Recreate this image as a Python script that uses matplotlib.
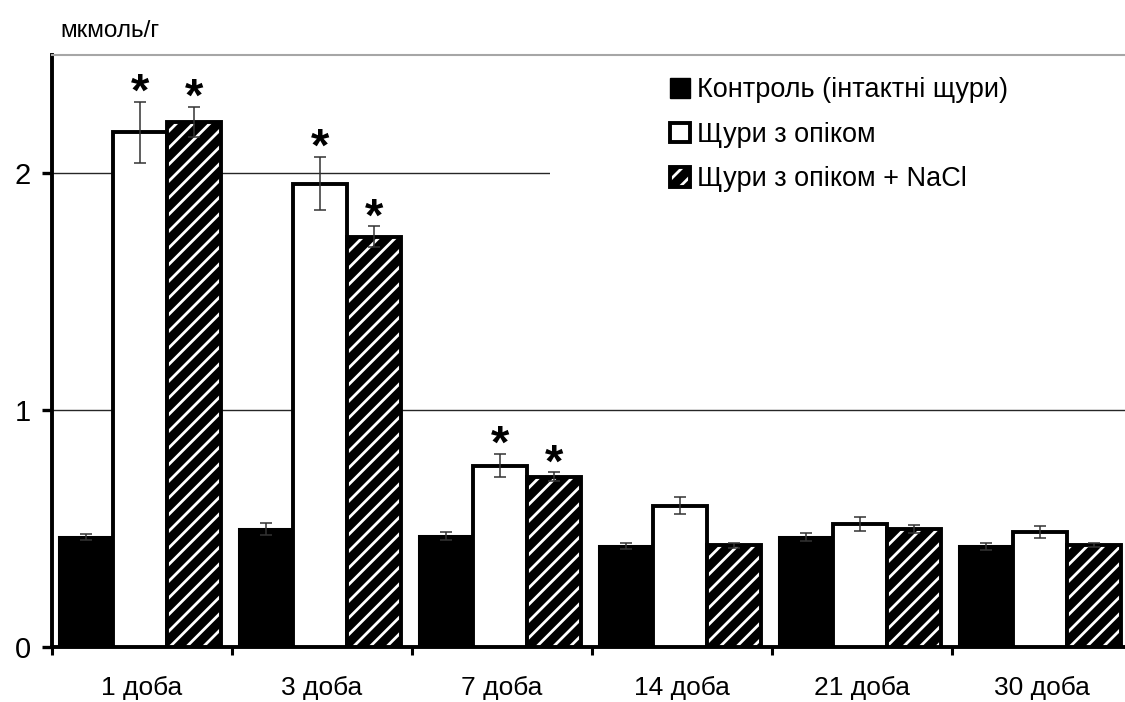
import numpy as np
import matplotlib
matplotlib.use('Agg')
import matplotlib.pyplot as plt
from matplotlib.patches import Patch, Rectangle

days = ['1 доба', '3 доба', '7 доба', '14 доба', '21 доба', '30 доба']
series_names = ['Контроль (інтактні щури)', 'Щури з опіком', 'Щури з опіком + NaCl']

control = [0.463, 0.497, 0.467, 0.427, 0.464, 0.425]
control_err = [0.013, 0.025, 0.017, 0.013, 0.018, 0.014]
burn = [2.173, 1.957, 0.766, 0.597, 0.518, 0.486]
burn_err = [0.13, 0.113, 0.05, 0.035, 0.03, 0.025]
burn_nacl = [2.218, 1.733, 0.720, 0.430, 0.500, 0.432]
burn_nacl_err = [0.064, 0.043, 0.018, 0.01, 0.017, 0.008]
# significance vs control
burn_sig = [True, True, True, False, False, False]
burn_nacl_sig = [True, True, True, False, False, False]

plt.rcParams['font.family'] = ['Liberation Sans', 'DejaVu Sans']
plt.rcParams['hatch.linewidth'] = 2.0

W, H = 1125, 702
fig = plt.figure(figsize=(W / 100, H / 100), dpi=100)
ax = fig.add_axes([52 / W, 55 / H, 1080 / W, 592 / H])

x = np.arange(len(days))
w = 0.3
shift = -0.01

ax.bar(x - w + shift, control, w, color='black', edgecolor='black', linewidth=2.2, zorder=3)
ax.bar(x + shift, burn, w, color='white', edgecolor='black', linewidth=2.8, zorder=3)
# hatched bars: white stripes on black, then a black outline on top
ax.bar(x + w + shift, burn_nacl, w, color='black', edgecolor='white', hatch='//', linewidth=0, zorder=3)
ax.bar(x + w + shift, burn_nacl, w, color='none', edgecolor='black', linewidth=2.8, zorder=3)

err_kw = dict(fmt='none', ecolor='#333333', elinewidth=1.1, capsize=4.5, capthick=1.1, zorder=4)
ax.errorbar(x - w + shift, control, yerr=control_err, **err_kw)
ax.errorbar(x + shift, burn, yerr=burn_err, **err_kw)
ax.errorbar(x + w + shift, burn_nacl, yerr=burn_nacl_err, **err_kw)

for i in range(len(days)):
    if burn_sig[i]:
        ax.annotate('*', xy=(x[i] + shift, burn[i] + burn_err[i]), xytext=(0, -3),
                    textcoords='offset points', ha='center', va='baseline',
                    fontsize=34, fontweight='bold', zorder=5)
    if burn_nacl_sig[i]:
        ax.annotate('*', xy=(x[i] + w + shift, burn_nacl[i] + burn_nacl_err[i]), xytext=(0, -3),
                    textcoords='offset points', ha='center', va='baseline',
                    fontsize=34, fontweight='bold', zorder=5)

ax.set_xlim(-0.5, 5.5)
ax.set_ylim(0, 2.5)
ax.set_xticks(x)
ax.set_xticklabels(days)
ax.set_xticks(np.arange(-0.5, len(days), 1), minor=True)
ax.tick_params(axis='x', which='major', length=0, pad=21, labelsize=19)
ax.tick_params(axis='x', which='minor', direction='out', length=6, width=2.2)
ax.set_yticks([0, 1, 2])
ax.tick_params(axis='y', direction='out', length=7, width=2.4, pad=8, labelsize=21)

ax.yaxis.grid(True, color='#262626', linewidth=1.0)
ax.set_axisbelow(True)
ax.spines['right'].set_visible(False)
ax.spines['top'].set_color('#a6a6a6')
ax.spines['top'].set_linewidth(1.5)
ax.spines['left'].set_linewidth(2.8)
ax.spines['bottom'].set_linewidth(2.8)

# white area behind the legend
ax.add_patch(Rectangle((2.267, 1.75), 3.5, 0.7, facecolor='white', edgecolor='none', zorder=1))

h_control = Patch(facecolor='black', edgecolor='black', linewidth=1)
h_burn = Patch(facecolor='white', edgecolor='black', linewidth=2.8)
h_nacl = (Patch(facecolor='black', edgecolor='white', hatch='//', linewidth=0),
          Patch(facecolor='none', edgecolor='black', linewidth=2.8))
ax.legend([h_control, h_burn, h_nacl], series_names, loc='upper left',
          bbox_to_anchor=(0.572, 0.962), frameon=False, fontsize=19.5,
          handlelength=0.75, handleheight=0.75, handletextpad=0.25,
          labelspacing=0.68, borderpad=0, borderaxespad=0)

fig.text(60 / W, 1 - 31 / H, 'мкмоль/г', fontsize=17.5, ha='left', va='center')

fig.savefig('out.png', dpi=100)
